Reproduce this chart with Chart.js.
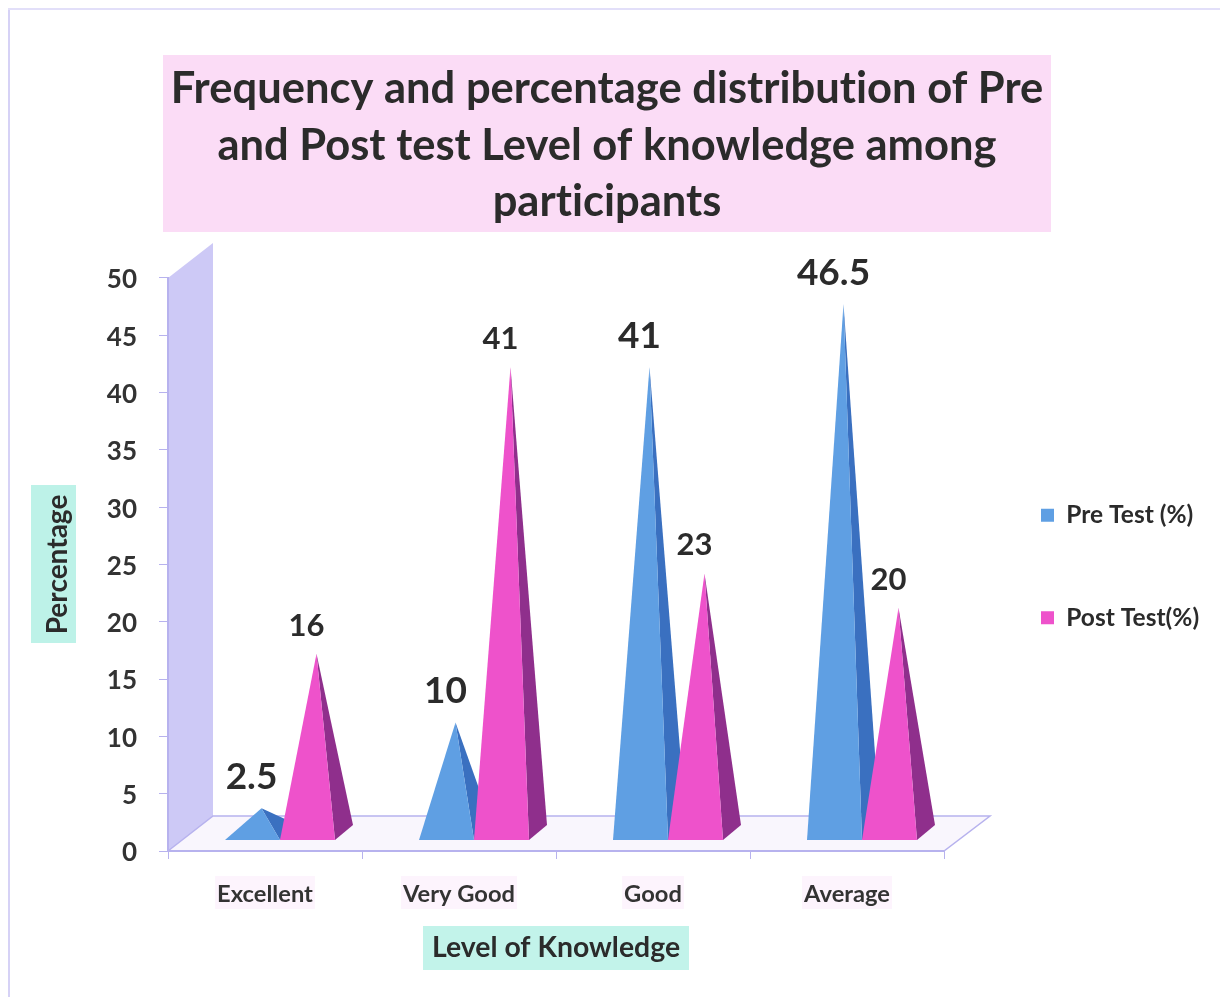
<!DOCTYPE html>
<html>
<head>
<meta charset="utf-8">
<style>html,body{margin:0;padding:0;background:#fff}#w{width:1220px;height:997px;position:relative}</style>
<script src="https://cdn.jsdelivr.net/npm/chart.js@4"></script>
</head>
<body>
<div id="w"><canvas id="c" width="1220" height="997"></canvas></div>
<script>
const categories = ["Excellent", "Very Good", "Good", "Average"];
const preTest = [2.5, 10, 41, 46.5];
const postTest = [16, 41, 23, 20];
const yTicks = [0, 5, 10, 15, 20, 25, 30, 35, 40, 45, 50];
const titleLines = ["Frequency and percentage distribution of Pre", "and Post test Level of knowledge among", "participants"];

const FONT = "Lato, Carlito, 'Open Sans', sans-serif";
const LAV = "#b7b2ee";
const sideColors = ["#3a70c0", "#8f2f8c"];
const DEPTH_X = 18, DEPTH_Y = 15, BASE_LIFT = 11, APEX_LIFT = 14, BAR_SHIFT = 15;

function rect(ctx, x, y, w, h, color) { ctx.fillStyle = color; ctx.fillRect(x, y, w, h); }
function poly(ctx, pts, fill, stroke) {
  ctx.beginPath();
  pts.forEach((p, i) => i ? ctx.lineTo(p[0], p[1]) : ctx.moveTo(p[0], p[1]));
  ctx.closePath();
  if (fill) { ctx.fillStyle = fill; ctx.fill(); }
  if (stroke) { ctx.strokeStyle = stroke; ctx.lineWidth = 1.5; ctx.stroke(); }
}

const pyramid3d = {
  id: "pyramid3d",
  afterLayout(chart) {
    const t = chart.titleBlock;
    t.left = 0; t.right = 1214;
    const l = chart.legend;
    l.left = 963; l.right = 1220; l.top = 425; l.bottom = 800;
  },
  beforeDraw(chart) {
    const ctx = chart.ctx;
    ctx.letterSpacing = "0.01px";
    ctx.save();
    rect(ctx, 0, 0, 1220, 997, "#ffffff");
    // page frame
    rect(ctx, 8, 9, 2, 988, "#d6d2f6");
    rect(ctx, 8, 8, 1212, 2, "#e2dff9");
    // text highlights
    rect(ctx, 163, 55, 888, 177, "#fbdcf6");
    rect(ctx, 31, 485, 45, 158, "#bdf2e8");
    rect(ctx, 423, 926, 266, 44, "#c2f3ea");
    const xs = chart.scales.x;
    ctx.font = "bold 23.7px " + FONT;
    categories.forEach((c, i) => {
      const w = ctx.measureText(c).width, x = xs.getPixelForValue(i);
      rect(ctx, x - w / 2 - 2, 876, w + 4, 33, "#fdf4fd");
    });
    // wall and floor
    const { left, right } = chart.chartArea;
    const y0 = chart.scales.y.getPixelForValue(0), y50 = chart.scales.y.getPixelForValue(50);
    const dx = 45, dy = 35;
    poly(ctx, [[left, y50], [left + dx, y50 - dy], [left + dx, y0 - dy], [left, y0]], "#cdc9f6");
    poly(ctx, [[left, y0], [left + dx, y0 - dy], [right + dx + 1, y0 - dy], [right, y0]], "#f9f6fd", LAV);
    ctx.restore();
  },
  beforeDatasetDraw() { return false; },
  afterDatasetsDraw(chart) {
    const ctx = chart.ctx, ys = chart.scales.y;
    const base = ys.getPixelForValue(0) - BASE_LIFT;
    chart.data.datasets.forEach((ds, di) => {
      chart.getDatasetMeta(di).data.forEach((bar, i) => {
        const x0 = bar.x - bar.width / 2 + BAR_SHIFT, x1 = bar.x + bar.width / 2 + BAR_SHIFT;
        const ax = (x0 + x1) / 2 + DEPTH_X / 2, ay = bar.y - APEX_LIFT;
        poly(ctx, [[x1, base], [x1 + DEPTH_X, base - DEPTH_Y], [ax, ay]], sideColors[di]);
        poly(ctx, [[x0, base], [x1, base], [ax, ay]], ds.backgroundColor);
      });
    });
    ctx.save();
    ctx.fillStyle = "#2b2b2b";
    ctx.textAlign = "center";
    ctx.textBaseline = "middle";
    chart.data.datasets.forEach((ds, di) => {
      ctx.font = "bold " + (di === 0 ? 37 : 31) + "px " + FONT;
      const lift = di === 0 ? 31 : 28;
      chart.getDatasetMeta(di).data.forEach((bar, i) => {
        const ax = bar.x + BAR_SHIFT + DEPTH_X / 2, ay = bar.y - APEX_LIFT;
        ctx.fillText(String(ds.data[i]), ax - 10, ay - lift);
      });
    });
    ctx.restore();
  }
};

new Chart(document.getElementById("c"), {
  type: "bar",
  plugins: [pyramid3d],
  data: {
    labels: categories,
    datasets: [
      { label: "Pre Test (%)", data: preTest, backgroundColor: "#5f9fe3", categoryPercentage: 0.567, barPercentage: 1 },
      { label: "Post Test(%)", data: postTest, backgroundColor: "#ee52cb", categoryPercentage: 0.567, barPercentage: 1 }
    ]
  },
  options: {
    responsive: false,
    animation: false,
    layout: { padding: { left: 0, top: 0, right: 276, bottom: 0 } },
    plugins: {
      tooltip: { enabled: false },
      title: {
        display: true,
        text: titleLines,
        color: "#2b2b2b",
        font: { family: FONT, size: 43.5, weight: "bold", lineHeight: 1.31 },
        padding: { top: 60, bottom: 47 }
      },
      legend: {
        position: "chartArea",
        align: "start",
        labels: {
          color: "#2b2b2b",
          font: { family: FONT, size: 24.5, weight: "bold" },
          boxWidth: 13,
          boxHeight: 13,
          padding: 78
        }
      }
    },
    scales: {
      x: {
        afterFit(s) { s.height = 146; },
        grid: { drawOnChartArea: false, color: LAV, tickLength: 8, offset: true },
        border: { color: LAV, width: 2 },
        ticks: { color: "#333", font: { family: FONT, size: 23.7, weight: "bold" }, padding: 21, maxRotation: 0 },
        title: { display: true, text: "Level of Knowledge", color: "#2b2b2b", font: { family: FONT, size: 28.4, weight: "bold", lineHeight: 1.2 }, padding: { top: 0, bottom: 32 } }
      },
      y: {
        min: 0,
        max: 50,
        afterFit(s) { s.width = 168; },
        afterBuildTicks(s) { s.ticks = yTicks.map(v => ({ value: v })); },
        grid: { drawOnChartArea: false, color: LAV, tickLength: 9 },
        border: { color: LAV, width: 2 },
        ticks: { color: "#333", font: { family: FONT, size: 26, weight: "bold" }, padding: 22, labelOffset: 2 },
        title: { display: true, text: "Percentage", color: "#2b2b2b", font: { family: FONT, size: 28, weight: "bold", lineHeight: 1.2 }, padding: { top: 41, bottom: 0 } }
      }
    }
  }
});
</script>
</body>
</html>
